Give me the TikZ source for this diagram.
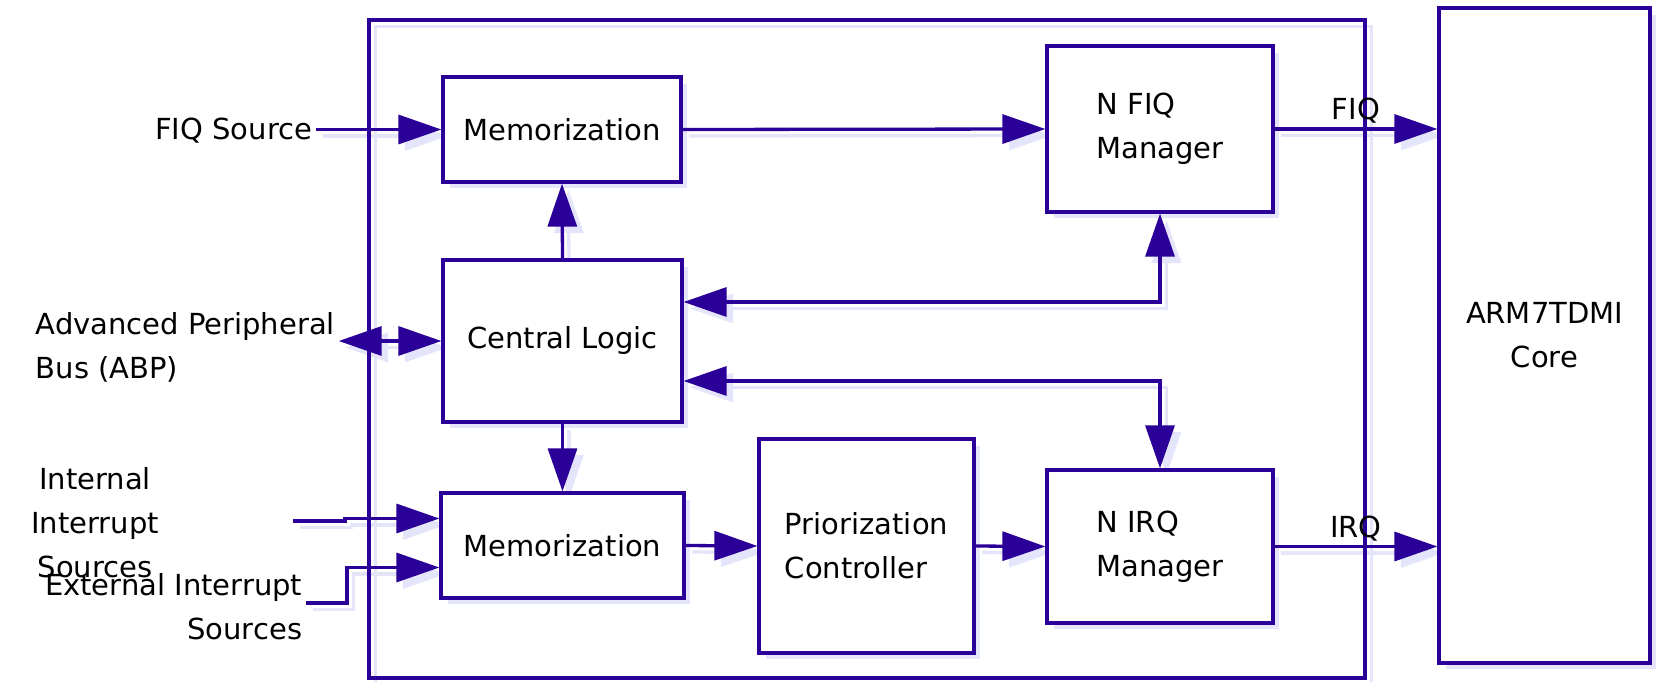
\documentclass[tikz,border=0pt]{standalone}
\usepackage{fontspec}
\setmainfont{DejaVu Sans}
\usetikzlibrary{arrows.meta,calc,shadows}
\definecolor{ink}{RGB}{42,0,153}
\definecolor{haze}{RGB}{228,228,250}
\pgfdeclarelayer{shade}
\pgfsetlayers{shade,main}
% a connector with its light shadow behind everything
\newcommand\wirepath[2][]{%
  \begin{pgfonlayer}{shade}
    \draw[wire,#1,draw=haze,transform canvas={shift={(0.13cm,-0.13cm)}}] #2;
  \end{pgfonlayer}
  \draw[wire,#1] #2;}

\begin{document}
\begin{tikzpicture}
		[x=0.02cm, y=-0.02cm, font=\fontsize{16.5}{25}\selectfont,
		 >={Triangle[length=0.86cm,width=0.58cm]},
		 box/.style={draw=ink, fill=white, line width=0.066cm, inner sep=0pt,
		   drop shadow={shadow xshift=0.13cm, shadow yshift=-0.13cm, fill=haze, opacity=1}},
		 wire/.style={draw=ink, line width=0.066cm, ->},
		 lbl/.style={inner sep=2pt}]
		
		\useasboundingbox (0,0) rectangle (1656,682);
		
		% controller frame ----------------------------------------
		\begin{pgfonlayer}{shade}
		\draw[haze, line width=0.066cm, transform canvas={shift={(0.13cm,-0.13cm)}}]
			(369,20) rectangle (1365,678);
		\end{pgfonlayer}
		\draw[ink, line width=0.066cm] (369,20) rectangle (1365,678);
		
		% blocks --------------------------------------------------
		\node[box, minimum width=4.76cm, minimum height=2.1cm] (mem1) at (562,129.5) {Memorization};
		\node[box, minimum width=4.78cm, minimum height=3.24cm] (cl) at (562.5,341) {Central Logic};
		\node[box, minimum width=4.86cm, minimum height=2.1cm] (mem2) at (562.5,545.5) {Memorization};
		\node[box, minimum width=4.3cm, minimum height=4.28cm, align=left] (prior) at (866.5,546)
			{Priorization\\Controller};
		\node[box, minimum width=4.52cm, minimum height=3.32cm, align=left] (nfiq) at (1160,129)
			{N FIQ\\Manager};
		\node[box, minimum width=4.52cm, minimum height=3.06cm, align=left] (nirq) at (1160,546.5)
			{N IRQ\\Manager};
		\node[box, minimum width=4.22cm, minimum height=13.1cm, align=center] (arm) at (1544.5,335.5)
			{ARM7TDMI\\Core};
		
		% inputs --------------------------------------------------
		\node[lbl, anchor=east] (fiqsrc) at (316,131) {FIQ Source};
		\node[lbl, anchor=west, align=left] (apb) at (32,347) {Advanced Peripheral\\Bus (ABP)};
		\node[lbl, align=center] (intsrc) at (95,523) {Internal\\Interrupt\\Sources};
		\node[lbl, anchor=east, align=right] (extsrc) at (306,607) {External Interrupt\\Sources};
		\coordinate (intin) at (293,521);
		\coordinate (extin) at (306,603);
		
		% connectors ----------------------------------------------
		\wirepath{(fiqsrc.east |- mem1.west) -- (mem1.west)}
		\wirepath[<->]{(apb.east |- cl.west) -- (cl.west)}
		\wirepath{(intin) -- ++(52,0) |- ($(mem2.west)+(0,-27)$)}
		\wirepath{(extin) -- ++(41,0) |- ($(mem2.west)+(0,22)$)}
		\wirepath{(cl.north) -- (mem1.south)}
		\wirepath{(cl.south) -- (mem2.north)}
		\wirepath{(mem1.east) -- (nfiq.west)}
		\wirepath{(mem2.east) -- (prior.west)}
		\wirepath{(prior.east) -- (nirq.west)}
		\wirepath[<->]{($(cl.east)+(0,-39)$) -| (nfiq.south)}
		\wirepath[<->]{($(cl.east)+(0,40)$) -| (nirq.north)}
		\wirepath{(nfiq.east) -- (nfiq.east -| arm.west)}
		\wirepath{(nirq.east) -- (nirq.east -| arm.west)}
		
		% outputs -------------------------------------------------
		\node[anchor=south, inner sep=3pt] (fiqout) at ($(nfiq.east)!0.5!(nfiq.east -| arm.west)$) {FIQ};
		\node[anchor=south, inner sep=3pt] (irqout) at ($(nirq.east)!0.5!(nirq.east -| arm.west)$) {IRQ};
\end{tikzpicture}
\end{document}
